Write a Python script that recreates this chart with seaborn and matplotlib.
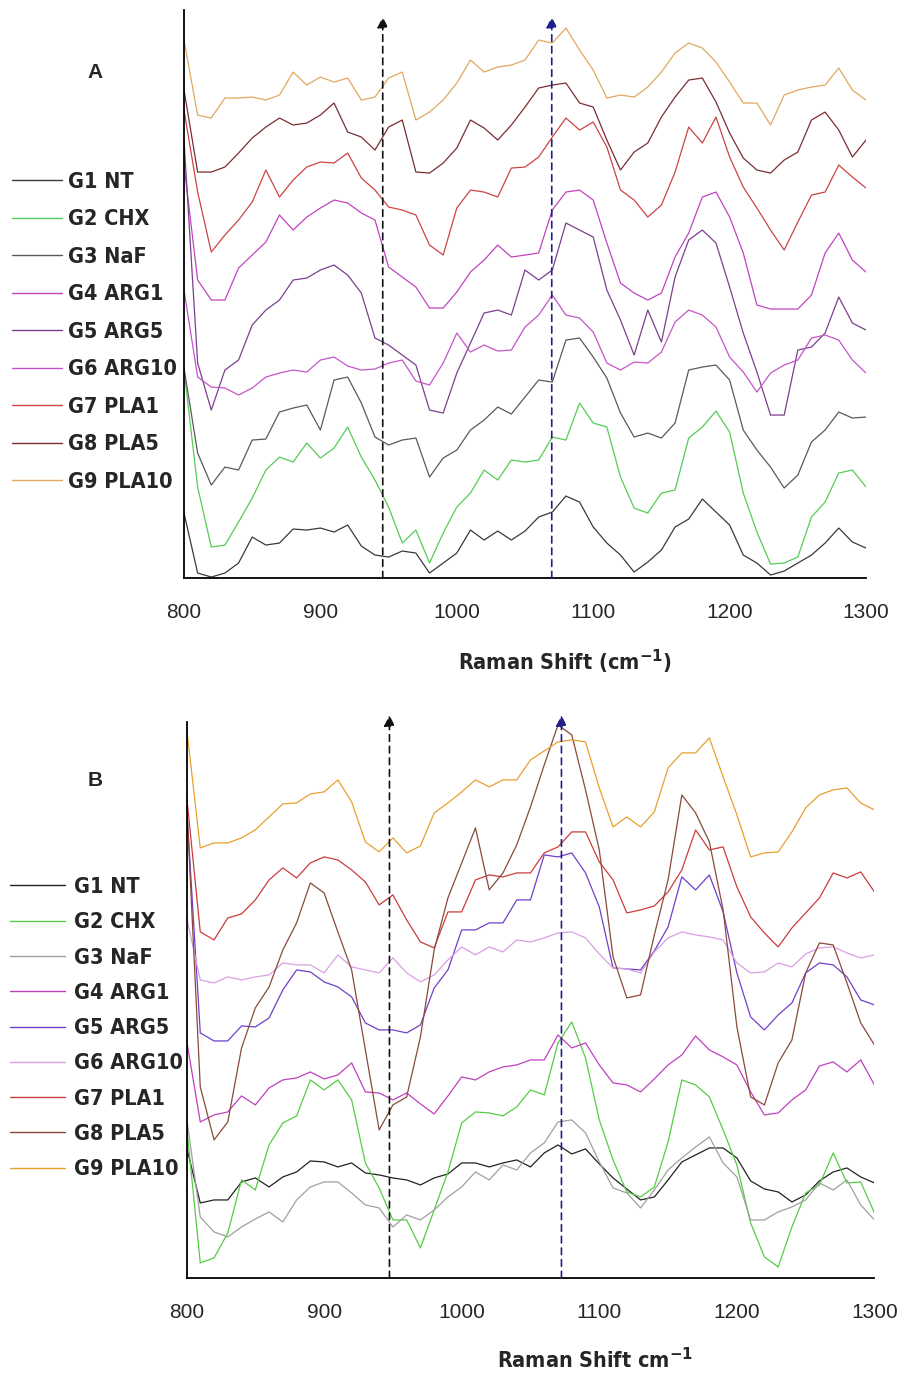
import seaborn as sns
import matplotlib.pyplot as plt
import pandas as pd
from matplotlib.lines import Line2D
from matplotlib.ticker import MultipleLocator

SHIFT = list(range(800, 1301, 10))
GROUPS = ['G1 NT', 'G2 CHX', 'G3 NaF', 'G4 ARG1', 'G5 ARG5', 'G6 ARG10', 'G7 PLA1', 'G8 PLA5', 'G9 PLA10']

# Panel A - gestapelte Spektren (a.u.)
A_G1 = [65, 5, 1, 5, 15, 41, 33, 35, 49, 48, 50, 46, 53, 32, 23, 21, 27, 25, 5, 15, 25, 48, 38, 47, 38, 47, 61, 66, 82, 76, 51, 35, 23, 6, 16, 28, 51, 59, 79, 66, 53, 23, 15, 3, 7, 15, 23, 35, 50, 36, 30]
A_G2 = [208, 91, 31, 33, 56, 80, 108, 121, 116, 135, 120, 130, 151, 121, 98, 71, 35, 48, 15, 45, 71, 85, 108, 98, 118, 116, 118, 141, 138, 175, 155, 151, 101, 70, 65, 85, 88, 140, 151, 167, 146, 85, 46, 14, 15, 21, 61, 76, 105, 108, 91]
A_G3 = [210, 125, 93, 111, 108, 138, 139, 166, 170, 173, 148, 198, 201, 175, 141, 133, 138, 140, 101, 120, 128, 148, 158, 171, 164, 181, 198, 196, 238, 240, 221, 200, 165, 141, 145, 140, 155, 208, 211, 213, 198, 148, 128, 111, 90, 103, 136, 148, 166, 160, 161]
A_G4 = [413, 298, 278, 278, 310, 323, 336, 363, 348, 361, 370, 378, 375, 365, 358, 311, 301, 291, 270, 270, 286, 306, 318, 333, 321, 323, 325, 368, 386, 388, 378, 335, 295, 285, 278, 285, 321, 345, 381, 386, 361, 325, 273, 269, 269, 269, 283, 325, 345, 318, 306]
A_G5 = [438, 215, 168, 208, 218, 253, 268, 278, 298, 300, 308, 313, 303, 285, 240, 233, 223, 213, 168, 165, 205, 235, 265, 268, 263, 308, 298, 308, 355, 348, 341, 288, 258, 223, 268, 236, 301, 338, 348, 335, 291, 245, 206, 163, 163, 228, 231, 245, 281, 255, 248]
A_G6 = [288, 201, 191, 190, 183, 190, 201, 205, 208, 206, 218, 221, 212, 208, 209, 215, 218, 197, 193, 215, 245, 226, 233, 227, 228, 251, 263, 283, 263, 260, 246, 215, 208, 216, 215, 226, 256, 268, 263, 251, 221, 206, 186, 205, 213, 218, 240, 243, 238, 218, 205]
A_G7 = [468, 386, 326, 343, 358, 376, 408, 381, 398, 411, 416, 415, 425, 400, 388, 371, 368, 363, 333, 323, 370, 388, 386, 381, 410, 411, 421, 441, 460, 448, 456, 431, 388, 378, 361, 373, 406, 451, 435, 461, 421, 391, 370, 348, 328, 356, 383, 386, 413, 401, 390]
A_G8 = [488, 406, 406, 411, 425, 440, 451, 460, 453, 455, 463, 475, 446, 441, 428, 451, 458, 406, 405, 415, 430, 458, 450, 438, 453, 471, 490, 493, 495, 475, 471, 438, 408, 426, 435, 461, 481, 498, 500, 476, 445, 420, 408, 405, 418, 426, 458, 466, 448, 421, 438]
A_G9 = [538, 463, 460, 480, 480, 481, 478, 483, 506, 493, 501, 496, 500, 478, 481, 500, 506, 458, 466, 478, 495, 518, 506, 511, 513, 518, 538, 535, 550, 528, 508, 480, 483, 481, 491, 506, 525, 535, 530, 516, 496, 475, 475, 453, 483, 488, 491, 493, 510, 488, 478]

# Panel B
B_G1 = [131, 75, 78, 78, 96, 100, 91, 101, 106, 117, 116, 111, 115, 105, 103, 100, 98, 93, 100, 104, 115, 115, 111, 115, 118, 111, 125, 133, 124, 129, 114, 100, 89, 78, 81, 98, 116, 123, 130, 130, 120, 97, 89, 86, 76, 83, 97, 106, 110, 101, 95]
B_G2 = [153, 15, 20, 45, 98, 88, 133, 155, 162, 198, 188, 198, 178, 115, 90, 58, 58, 30, 68, 106, 155, 166, 165, 162, 171, 188, 183, 235, 256, 220, 158, 118, 86, 81, 91, 136, 198, 193, 181, 148, 113, 55, 21, 11, 51, 85, 93, 125, 95, 96, 65]
B_G3 = [161, 61, 46, 41, 51, 59, 66, 56, 78, 91, 96, 96, 85, 73, 70, 51, 63, 58, 68, 81, 91, 106, 98, 113, 108, 125, 135, 156, 158, 145, 116, 90, 85, 70, 88, 108, 120, 131, 141, 115, 101, 58, 58, 66, 71, 78, 95, 88, 98, 73, 58]
B_G4 = [238, 156, 163, 166, 182, 173, 190, 198, 200, 206, 199, 203, 215, 186, 185, 178, 185, 174, 164, 182, 201, 198, 206, 211, 213, 218, 218, 243, 230, 235, 213, 195, 193, 186, 199, 213, 223, 242, 228, 221, 213, 186, 163, 165, 178, 188, 212, 216, 206, 218, 193]
B_G5 = [473, 245, 237, 237, 252, 251, 260, 288, 308, 306, 296, 291, 281, 255, 248, 248, 245, 253, 290, 308, 348, 348, 355, 355, 378, 378, 423, 421, 425, 405, 371, 310, 309, 308, 327, 351, 401, 388, 403, 366, 305, 261, 248, 263, 275, 305, 315, 313, 301, 278, 273]
B_G6 = [361, 298, 295, 301, 298, 301, 303, 315, 313, 313, 305, 323, 311, 308, 305, 320, 305, 296, 303, 318, 331, 323, 331, 326, 338, 336, 340, 345, 346, 340, 324, 310, 309, 305, 326, 340, 346, 343, 341, 338, 315, 305, 306, 315, 311, 324, 330, 331, 325, 320, 323]
B_G7 = [483, 346, 338, 360, 364, 378, 398, 410, 400, 415, 421, 418, 408, 396, 373, 383, 358, 336, 330, 366, 366, 398, 403, 401, 405, 405, 425, 431, 446, 446, 416, 398, 365, 368, 372, 386, 408, 448, 428, 431, 391, 361, 345, 331, 350, 365, 380, 405, 400, 406, 386]
B_G8 = [478, 191, 138, 156, 230, 270, 291, 328, 355, 395, 385, 346, 308, 228, 148, 173, 181, 241, 328, 380, 415, 450, 388, 405, 433, 471, 513, 553, 543, 488, 428, 321, 280, 283, 343, 398, 483, 465, 436, 368, 251, 181, 173, 215, 238, 305, 335, 333, 295, 255, 233]
B_G9 = [551, 430, 435, 435, 440, 448, 461, 474, 475, 484, 486, 498, 476, 436, 426, 440, 425, 432, 465, 475, 486, 498, 491, 498, 498, 518, 527, 536, 538, 536, 490, 451, 461, 451, 466, 510, 525, 525, 540, 501, 463, 421, 425, 426, 446, 470, 483, 488, 490, 475, 468]

# markierte Banden (cm-1)
ARROWS_A = [945.7, 1069.6]
ARROWS_B = [947.5, 1072.5]
ARROW_COLORS = ['#111111', '#1f1f8a']

COLORS_A = ['#3a3a3a', '#55cc55', '#5a5a5a', '#c044c0', '#7b3f8f', '#c455c8', '#cc4444', '#7a2e32', '#e0a860']
COLORS_B = ['#222222', '#55cc44', '#a0a0a0', '#c040c0', '#7040c8', '#d8a0e0', '#cc3c3c', '#8a4a3a', '#e8a030']

# schmale fette Schrift wie im Original
NARROW = {'family': 'DejaVu Sans', 'stretch': 'condensed', 'weight': 'bold'}


def long_form(series):
    rows = []
    for g, vals in zip(GROUPS, series):
        for x, y in zip(SHIFT, vals):
            rows.append((g, x, y))
    return pd.DataFrame(rows, columns=['gruppe', 'shift', 'intensity'])


def draw_panel(ax, series, colors, arrows, ytop, xlabel, label_xy, arrow_top):
    df = long_form(series)
    sns.lineplot(data=df, x='shift', y='intensity', hue='gruppe',
                 palette=dict(zip(GROUPS, colors)), ax=ax, linewidth=0.9,
                 legend=False, estimator=None)
    for x, c in zip(arrows, ARROW_COLORS):
        ax.annotate('', xy=(x, arrow_top), xycoords=('data', 'axes fraction'),
                    xytext=(x, 0), textcoords=('data', 'axes fraction'),
                    arrowprops=dict(arrowstyle='-|>', color=c, lw=1.2,
                                    linestyle=(0, (4, 3)), mutation_scale=16,
                                    shrinkA=0, shrinkB=0),
                    annotation_clip=False)
    ax.set_xlim(800, 1300)
    ax.set_ylim(0, ytop)
    ax.set_yticks([])
    ax.set_ylabel('')
    ax.xaxis.set_major_locator(MultipleLocator(100))
    ax.xaxis.set_minor_locator(MultipleLocator(50))
    ax.tick_params(axis='x', which='both', direction='out', length=7, width=1.2,
                   labelsize=15, pad=11)
    for s in ['top', 'right']:
        ax.spines[s].set_visible(False)
    for s in ['left', 'bottom']:
        ax.spines[s].set_linewidth(1.3)
        ax.spines[s].set_color('black')
    ax.set_xlabel(xlabel, fontsize=15.5, **NARROW)
    ax.xaxis.set_label_coords(*label_xy)
    ax.xaxis.label.set_va('center')


sns.set_style('white')
plt.rcParams['font.family'] = ['Liberation Sans', 'DejaVu Sans']

fig = plt.figure(figsize=(8.98, 13.74), dpi=100)
axA = fig.add_axes([0.2049, 0.5793, 0.7595, 0.4134])
axB = fig.add_axes([0.2077, 0.0699, 0.7661, 0.4047])

draw_panel(axA, [A_G1, A_G2, A_G3, A_G4, A_G5, A_G6, A_G7, A_G8, A_G9], COLORS_A,
           ARROWS_A, 568, 'Raman Shift (cm$^{\\mathbf{-1}}$)', (0.559, -0.148), 0.988)
draw_panel(axB, [B_G1, B_G2, B_G3, B_G4, B_G5, B_G6, B_G7, B_G8, B_G9], COLORS_B,
           ARROWS_B, 556, 'Raman Shift cm$^{\\mathbf{-1}}$', (0.594, -0.1475), 1.012)

fig.text(95 / 898, 1 - 72 / 1374, 'A', fontsize=15, fontweight='bold', ha='center', va='center')
fig.text(95 / 898, 1 - 780 / 1374, 'B', fontsize=15, fontweight='bold', ha='center', va='center')

legend_font = dict(NARROW, size=15.5)
hA = [Line2D([], [], color=c, lw=1.0) for c in COLORS_A]
fig.legend(hA, GROUPS, loc='upper left', bbox_to_anchor=(12 / 898, 1 - 172 / 1374),
           frameon=False, borderpad=0, borderaxespad=0, handlelength=2.3,
           handletextpad=0.28, labelspacing=0.81, prop=legend_font)
hB = [Line2D([], [], color=c, lw=1.0) for c in COLORS_B]
fig.legend(hB, GROUPS, loc='upper left', bbox_to_anchor=(10 / 898, 1 - 877 / 1374),
           frameon=False, borderpad=0, borderaxespad=0, handlelength=2.55,
           handletextpad=0.42, labelspacing=0.71, prop=legend_font)

fig.savefig('out.png', dpi=100)
